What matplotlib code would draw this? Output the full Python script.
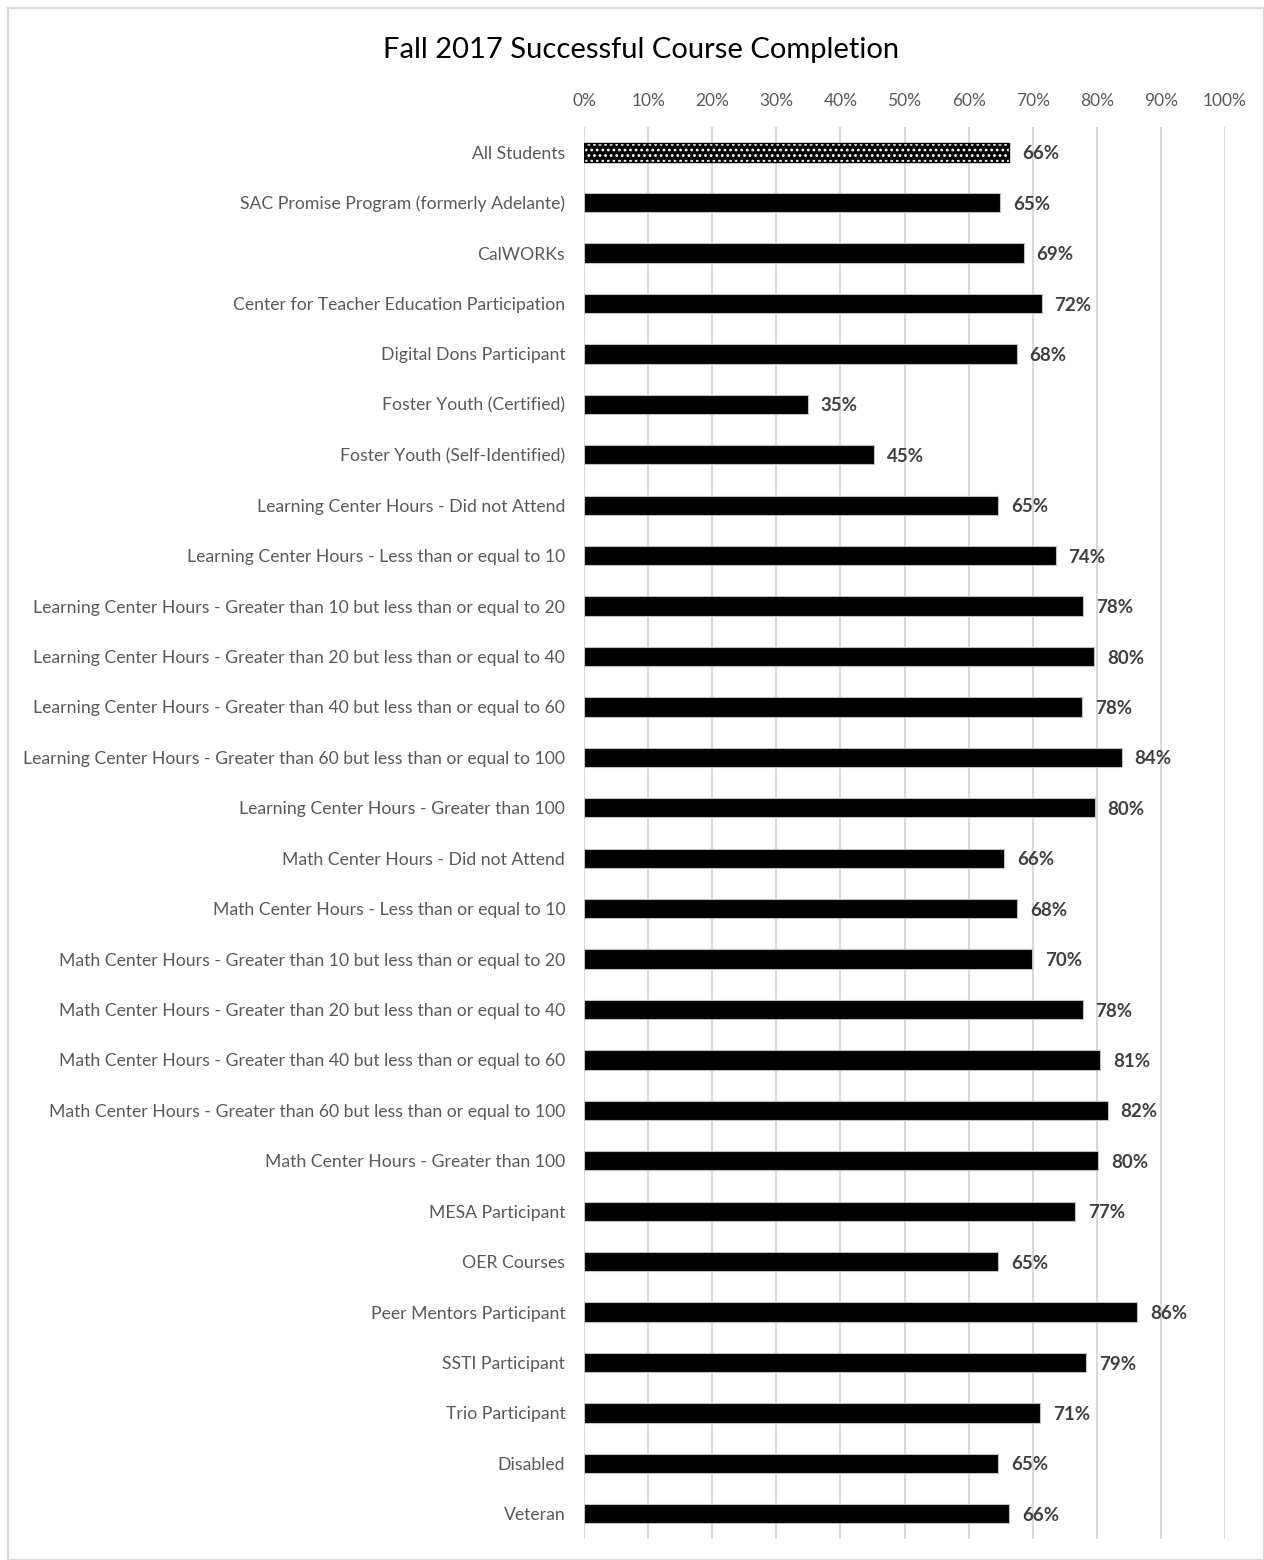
import matplotlib
matplotlib.use("Agg")
import matplotlib.pyplot as plt
from matplotlib.patches import Rectangle

categories = [
    "All Students",
    "SAC Promise Program (formerly Adelante)",
    "CalWORKs",
    "Center for Teacher Education Participation",
    "Digital Dons Participant",
    "Foster Youth (Certified)",
    "Foster Youth (Self-Identified)",
    "Learning Center Hours - Did not Attend",
    "Learning Center Hours - Less than or equal to 10",
    "Learning Center Hours - Greater than 10 but less than or equal to 20",
    "Learning Center Hours - Greater than 20 but less than or equal to 40",
    "Learning Center Hours - Greater than 40 but less than or equal to 60",
    "Learning Center Hours - Greater than 60 but less than or equal to 100",
    "Learning Center Hours - Greater than 100",
    "Math Center Hours - Did not Attend",
    "Math Center Hours - Less than or equal to 10",
    "Math Center Hours - Greater than 10 but less than or equal to 20",
    "Math Center Hours - Greater than 20 but less than or equal to 40",
    "Math Center Hours - Greater than 40 but less than or equal to 60",
    "Math Center Hours - Greater than 60 but less than or equal to 100",
    "Math Center Hours - Greater than 100",
    "MESA Participant",
    "OER Courses",
    "Peer Mentors Participant",
    "SSTI Participant",
    "Trio Participant",
    "Disabled",
    "Veteran",
]
values = [66.3, 64.9, 68.6, 71.4, 67.5, 34.9, 45.2, 64.6, 73.6, 77.9, 79.6, 77.7,
          83.9, 79.7, 65.6, 67.6, 69.9, 77.8, 80.5, 81.7, 80.2, 76.6, 64.6, 86.3,
          78.3, 71.2, 64.6, 66.3]
labels = ["66%", "65%", "69%", "72%", "68%", "35%", "45%", "65%", "74%", "78%",
          "80%", "78%", "84%", "80%", "66%", "68%", "70%", "78%", "81%", "82%",
          "80%", "77%", "65%", "86%", "79%", "71%", "65%", "66%"]
xticks = [0, 10, 20, 30, 40, 50, 60, 70, 80, 90, 100]
xtick_labels = ["0%", "10%", "20%", "30%", "40%", "50%", "60%", "70%", "80%", "90%", "100%"]
title = "Fall 2017 Successful Course Completion"

plt.rcParams['font.family'] = ['Lato', 'DejaVu Sans']
plt.rcParams['hatch.linewidth'] = 1.2
W, H = 1264, 1560
fig = plt.figure(figsize=(W / 100, H / 100), dpi=100)
fig.patches.append(Rectangle((8 / W, 0), 1 - 8 / W, 1 - 8 / H, transform=fig.transFigure,
                             fill=False, edgecolor="#d9d9d9", linewidth=1.5))
ax = fig.add_axes([584 / W, 1 - 1539 / H, (1225 - 584) / W, (1539 - 127) / H])

n = len(categories)
ypos = list(range(n))
for i, (v, lab) in enumerate(zip(values, labels)):
    if i == 0:
        ax.barh(i, v, height=0.38, color="black", edgecolor="white", hatch="...",
                linewidth=0, zorder=3)
        ax.barh(i, v, height=0.38, fill=False, edgecolor="black", linewidth=1, zorder=4)
    else:
        ax.barh(i, v, height=0.38, color="black", edgecolor="#bfbfbf", linewidth=0.8, zorder=3)
    ax.text(v + 2.0, i + 0.03, lab, va="center", ha="left", fontsize=13.5, fontweight="bold",
            color="#404040")

ax.set_xlim(0, 100)
ax.set_ylim(n - 0.5, -0.5)
ax.set_yticks(ypos)
ax.set_yticklabels(categories, fontsize=12.7, color="#595959")
ax.set_xticks(xticks)
ax.set_xticklabels(xtick_labels, fontsize=12.5, color="#595959")
ax.xaxis.tick_top()
ax.tick_params(axis="both", length=0)
ax.tick_params(axis="y", pad=13.5)
ax.tick_params(axis="x", pad=13)
ax.grid(axis="x", color="#d9d9d9", linewidth=1.5, zorder=0)
ax.set_axisbelow(True)
for s in ax.spines.values():
    s.set_visible(False)

fig.text(641 / W, 1 - 50 / H, title, ha="center", va="center", fontsize=21, color="black")

fig.savefig("out.png", dpi=100)
